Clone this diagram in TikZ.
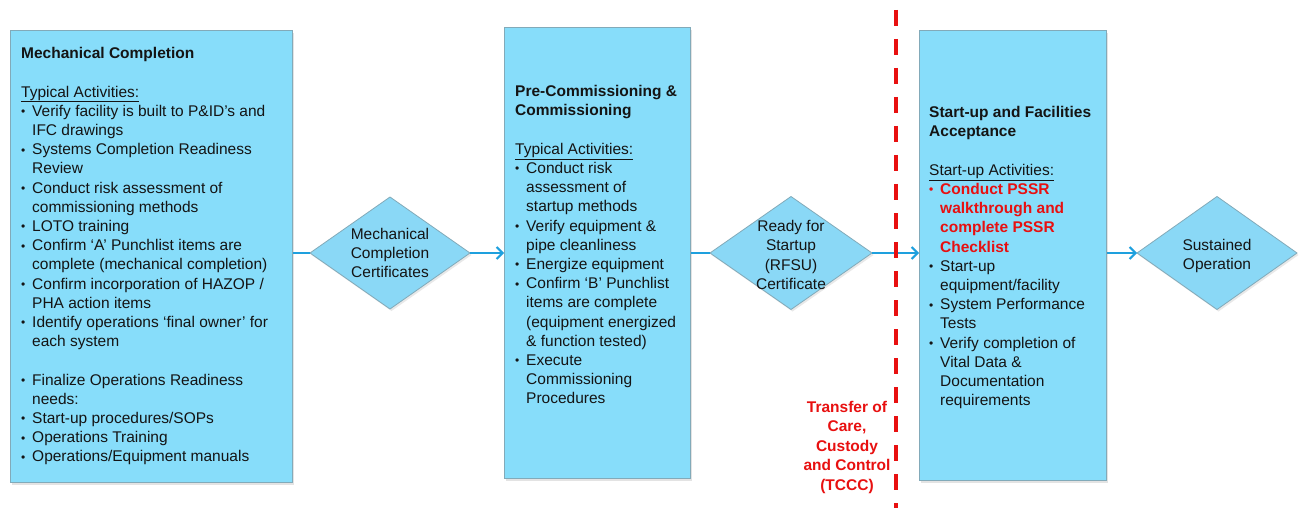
\documentclass[tikz,border=0pt]{standalone}
\usepackage{fontspec}
\setmainfont{Liberation Sans}
\usetikzlibrary{shapes.geometric,arrows.meta,shadows}
\definecolor{boxfill}{RGB}{135,221,250}
\definecolor{diafill}{RGB}{138,216,246}
\definecolor{boxline}{RGB}{130,170,185}
\definecolor{arrblue}{RGB}{30,160,222}
\definecolor{tred}{RGB}{232,16,16}
\definecolor{txt}{RGB}{20,20,20}
\newcommand\bul{\makebox[11pt][l]{\raisebox{0.5pt}{\fontsize{12}{12}\selectfont •}}}
\newcommand\ind{\hspace*{11pt}}
\tikzset{
  box/.style={draw=boxline, line width=0.8pt, fill=boxfill, rectangle, anchor=north west, inner sep=0pt,
    drop shadow={opacity=0.22, shadow xshift=2pt, shadow yshift=-2.5pt}},
  dia/.style={draw=boxline, line width=0.8pt, fill=diafill, diamond, inner sep=0pt, outer sep=0pt,
    drop shadow={opacity=0.18, shadow xshift=1.5pt, shadow yshift=-2pt}},
  diatext/.style={align=center, text=txt, inner sep=0pt, font=\fontsize{15.5}{19.3}\selectfont},
  boxtext/.style={anchor=north west, inner sep=0pt, align=left, text=txt, font=\fontsize{15.5}{19.2}\selectfont},
  conn/.style={draw=arrblue, line width=2pt},
  arr/.style={conn, -{Straight Barb[length=6pt, width=12pt]}},
  tcccline/.style={draw=tred, line width=4pt, dash pattern=on 16pt off 13pt},
  tccctext/.style={text=tred, align=center, inner sep=0pt, font=\bfseries\fontsize{15.5}{19.5}\selectfont}
}
\begin{document}
\begin{tikzpicture}[x=1pt, y=-1pt]
\useasboundingbox (0,0) rectangle (1299,508);
\fill[white] (0,0) rectangle (1299,508);

% boxes
\node[box, minimum width=282pt, minimum height=452pt] (b1) at (10,30) {};
\node[box, minimum width=186pt, minimum height=451pt] (b2) at (504,27) {};
\node[box, minimum width=187pt, minimum height=450pt] (b3) at (919,30) {};

% diamonds
\node[dia, minimum width=160pt, minimum height=112pt] (d1) at (390,253) {};
\node[dia, minimum width=162pt, minimum height=113pt] (d2) at (791,253) {};
\node[dia, minimum width=160pt, minimum height=113pt] (d3) at (1217,253) {};
\node[diatext] (dt1) at (d1.center) {Mechanical\\Completion\\Certificates};
\node[diatext] (dt2) at (791,255) {Ready for\\Startup\\(RFSU)\\Certificate};
\node[diatext] (dt3) at (1217,256) {Sustained\\Operation};

% box texts
\node[boxtext] (t1) at (21,45) {\strut\textbf{Mechanical Completion}\\[19.2pt]
\underline{Typical Activities:}\\
\bul Verify facility is built to P\&ID’s and\\
\ind IFC drawings\\
\bul Systems Completion Readiness\\
\ind Review\\
\bul Conduct risk assessment of\\
\ind commissioning methods\\
\bul LOTO training\\
\bul Confirm ‘A’ Punchlist items are\\
\ind complete (mechanical completion)\\
\bul Confirm incorporation of HAZOP /\\
\ind PHA action items\\
\bul Identify operations ‘final owner’ for\\
\ind each system\\[19.2pt]
\bul Finalize Operations Readiness\\
\ind needs:\\
\bul Start-up procedures/SOPs\\
\bul Operations Training\\
\bul Operations/Equipment manuals};

\node[boxtext] (t2) at (515,83) {\strut\textbf{Pre-Commissioning \&}\\
\textbf{Commissioning}\\[19.2pt]
\underline{Typical Activities:}\\
\bul Conduct risk\\
\ind assessment of\\
\ind startup methods\\
\bul Verify equipment \&\\
\ind pipe cleanliness\\
\bul Energize equipment\\
\bul Confirm ‘B’ Punchlist\\
\ind items are complete\\
\ind (equipment energized\\
\ind \& function tested)\\
\bul Execute\\
\ind Commissioning\\
\ind Procedures};

\node[boxtext] (t3) at (929,104) {\strut\textbf{Start-up and Facilities}\\
\textbf{Acceptance}\\[19.2pt]
\underline{Start-up Activities:}\\
{\color{tred}\bfseries\bul Conduct PSSR}\\
{\color{tred}\bfseries\ind walkthrough and}\\
{\color{tred}\bfseries\ind complete PSSR}\\
{\color{tred}\bfseries\ind Checklist}\\
\bul Start-up\\
\ind equipment/facility\\
\bul System Performance\\
\ind Tests\\
\bul Verify completion of\\
\ind Vital Data \&\\
\ind Documentation\\
\ind requirements};

% connectors
\draw[conn] (b1.east |- d1.west) -- (d1.west);
\draw[arr] (d1.east) -- (d1.east -| b2.west);
\draw[conn] (b2.east |- d2.west) -- (d2.west);
\draw[arr] (d2.east) -- (d2.east -| b3.west);
\draw[arr] (b3.east |- d3.west) -- (d3.west);

% TCCC line
\coordinate (dtop) at (896,10);
\coordinate (dbot) at (896,510);
\draw[tcccline] (dtop) -- (dbot);
\node[tccctext] (tccc) at (847,447) {Transfer of\\Care,\\Custody\\and Control\\(TCCC)};
\end{tikzpicture}
\end{document}
